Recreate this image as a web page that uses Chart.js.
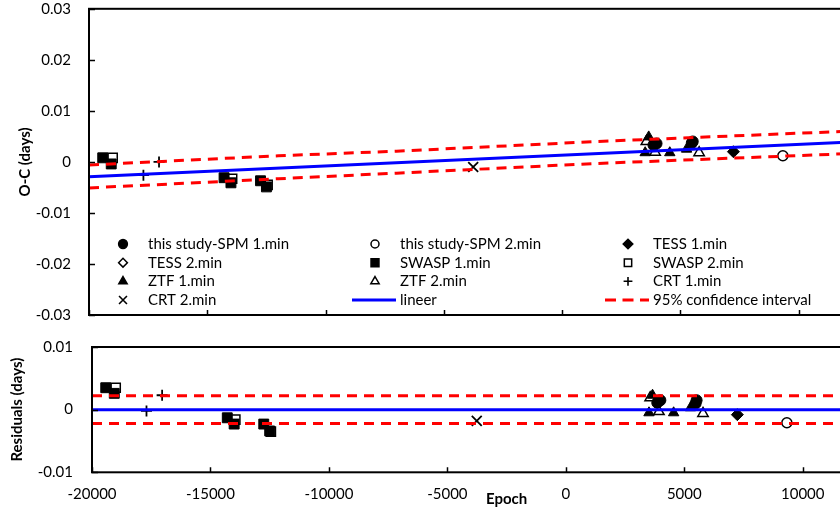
<!DOCTYPE html>
<html>
<head>
<meta charset="utf-8">
<script src="https://cdn.jsdelivr.net/npm/chart.js@4.4.1/dist/chart.umd.min.js"></script>
<style>
  html, body { margin: 0; padding: 0; background: #fff; overflow: hidden; }
  #wrap { position: relative; width: 930px; height: 511px; }
  #topBox { position: absolute; left: 0; top: 0; }
  #botBox { position: absolute; left: 0; top: 325px; }
</style>
</head>
<body>
<div id="wrap">
  <div id="topBox"><canvas id="ocChart" width="930" height="325"></canvas></div>
  <div id="botBox"><canvas id="resChart" width="930" height="186"></canvas></div>
</div>
<script>
// O-C diagram: linear fit on top, residuals below

const xTicks = [-20000, -15000, -10000, -5000, 0, 5000, 10000, 15000];
const ocTicks = [-0.03, -0.02, -0.01, 0, 0.01, 0.02, 0.03];
const resTicks = [-0.01, 0, 0.01];

// this study-SPM 1.min
const spm1Epoch = [3860, 3990, 5480, 5520];
const spm1OC = [0.0033, 0.0036, 0.0037, 0.0040];
const spm1Res = [0.0011, 0.0015, 0.0010, 0.0015];

// this study-SPM 2.min
const spm2Epoch = [9330];
const spm2OC = [0.0012];
const spm2Res = [-0.0021];

// TESS
const tess1Epoch = [7240];
const tess1OC = [0.0020];
const tess1Res = [-0.0008];
const tess2Epoch = [];
const tess2OC = [];
const tess2Res = [];

// SWASP
const swasp1Epoch = [-19420, -19060, -14290, -14000, -12750, -12500];
const swasp1OC = [0.0008, -0.0004, -0.0031, -0.0041, -0.0037, -0.0049];
const swasp1Res = [0.0035, 0.0026, -0.0013, -0.0023, -0.0023, -0.0034];
const swasp2Epoch = [-19000, -13950, -12450];
const swasp2OC = [0.0008, -0.0033, -0.0045];
const swasp2Res = [0.0035, -0.0016, -0.0035];

// ZTF
const ztf1Epoch = [3660, 3510, 4550, 5260];
const ztf1OC = [0.0049, 0.0018, 0.0018, 0.0025];
const ztf1Res = [0.0023, -0.0005, -0.0005, 0.0003];
const ztf2Epoch = [3560, 3930, 5790];
const ztf2OC = [0.0040, 0.0019, 0.0018];
const ztf2Res = [0.0019, -0.0003, -0.0006];

// CRT
const crt1Epoch = [-17700, -17040];
const crt1OC = [-0.0026, 0.0000];
const crt1Res = [-0.0002, 0.0023];
const crt2Epoch = [-3760];
const crt2OC = [-0.0010];
const crt2Res = [-0.0018];

// linear fit and 95% band
const fitEpoch = [-20000, 15000];
const fitOC = [-0.0029, 0.0045];
const bandEpoch = [-20000, -12000, -7000, 1500, 12000, 15000];
const bandUpper = [-0.0006, 0.0012, 0.0021, 0.0040, 0.0060, 0.0066];
const bandLower = [-0.0051, -0.0033, -0.0022, -0.0003, 0.0016, 0.0022];
const resFit = [0, 0];
const resUpper = [0.0022, 0.0022];
const resLower = [-0.0022, -0.0022];

const FONT = "Lato";

const SERIES = [
  { label: "this study-SPM 1.min", epoch: spm1Epoch, oc: spm1OC, res: spm1Res, style: "circle", r: 5.5, filled: true },
  { label: "this study-SPM 2.min", epoch: spm2Epoch, oc: spm2OC, res: spm2Res, style: "circle", r: 5, filled: false },
  { label: "TESS 1.min", epoch: tess1Epoch, oc: tess1OC, res: tess1Res, style: "rectRot", r: 6, filled: true },
  { label: "TESS 2.min", epoch: tess2Epoch, oc: tess2OC, res: tess2Res, style: "rectRot", r: 5.5, filled: false },
  { label: "SWASP 1.min", epoch: swasp1Epoch, oc: swasp1OC, res: swasp1Res, style: "rect", r: 7, filled: true },
  { label: "SWASP 2.min", epoch: swasp2Epoch, oc: swasp2OC, res: swasp2Res, style: "rect", r: 6.5, filled: false },
  { label: "ZTF 1.min", epoch: ztf1Epoch, oc: ztf1OC, res: ztf1Res, style: "triangle", r: 6, filled: true },
  { label: "ZTF 2.min", epoch: ztf2Epoch, oc: ztf2OC, res: ztf2Res, style: "triangle", r: 6, filled: false },
  { label: "CRT 1.min", epoch: crt1Epoch, oc: crt1OC, res: crt1Res, style: "cross", r: 5.5, filled: false, cross: true },
  { label: "CRT 2.min", epoch: crt2Epoch, oc: crt2OC, res: crt2Res, style: "crossRot", r: 7, filled: false, cross: true },
];

function pts(xs, ys) {
  return xs.map((x, i) => ({ x, y: ys[i] }));
}

function markerDataset(s, key) {
  return {
    label: s.label,
    data: pts(s.epoch, s[key]),
    pointStyle: s.style,
    pointRadius: s.r,
    pointBackgroundColor: s.filled ? "#000" : "#fff",
    pointBorderColor: "#000",
    pointBorderWidth: s.cross ? 1.8 : (s.filled ? 1 : 1.5),
    showLine: false,
    order: 1,
  };
}

function lineDataset(label, xs, ys, color, dash) {
  return {
    label,
    data: pts(xs, ys),
    showLine: true,
    borderColor: color,
    borderWidth: 3,
    borderDash: dash || [],
    pointRadius: 0,
    tension: 0,
    order: 0,
  };
}

// box around the plot area plus inward tick marks
const frame = {
  id: "frame",
  afterDatasetsDraw(chart) {
    const { ctx, chartArea: a, scales } = chart;
    ctx.save();
    ctx.strokeStyle = "#000";
    ctx.lineWidth = 2;
    ctx.strokeRect(a.left, a.top, a.right - a.left, a.bottom - a.top);
    ctx.lineWidth = 1.5;
    ctx.beginPath();
    scales.x.ticks.forEach((t) => {
      const px = Math.round(scales.x.getPixelForValue(t.value)) + 0.5;
      ctx.moveTo(px, a.bottom);
      ctx.lineTo(px, a.bottom - 5);
    });
    scales.y.ticks.forEach((t) => {
      const py = Math.round(scales.y.getPixelForValue(t.value)) + 0.5;
      ctx.moveTo(a.left, py);
      ctx.lineTo(a.left + 6, py);
    });
    ctx.stroke();
    ctx.restore();
  },
};

const LEGEND_TEXT_X = [148, 400, 653];
const LEGEND_ROW_Y = [244, 262.7, 281.3, 300];

const gridLegend = {
  id: "gridLegend",
  afterDraw(chart) {
    const ctx = chart.ctx;
    const items = SERIES.map((s) => ({ ...s, kind: "marker" })).concat([
      { label: "lineer", kind: "line", color: "#0000ff", dash: [] },
      { label: "95% confidence interval", kind: "line", color: "#ff0000", dash: [11, 6.5] },
    ]);
    ctx.save();
    ctx.font = `15px ${FONT}`;
    ctx.textBaseline = "middle";
    ctx.textAlign = "left";
    items.forEach((it, i) => {
      const tx = LEGEND_TEXT_X[i % 3];
      const y = LEGEND_ROW_Y[Math.floor(i / 3)];
      if (it.kind === "line") {
        ctx.save();
        ctx.strokeStyle = it.color;
        ctx.lineWidth = 3;
        ctx.setLineDash(it.dash);
        ctx.beginPath();
        ctx.moveTo(tx - 48, y);
        ctx.lineTo(tx - 4, y);
        ctx.stroke();
        ctx.restore();
      } else {
        ctx.save();
        ctx.fillStyle = it.filled ? "#000" : "#fff";
        ctx.strokeStyle = "#000";
        ctx.lineWidth = it.cross ? 1.6 : 1.5;
        Chart.helpers.drawPoint(ctx, {
          pointStyle: it.style,
          radius: it.r * 0.8,
          borderWidth: ctx.lineWidth,
          rotation: 0,
        }, tx - 25, y);
        ctx.restore();
      }
      ctx.fillStyle = "#000";
      ctx.fillText(it.label, tx, y);
    });
    ctx.restore();
  },
};

function tickFmt(v) {
  return String(parseFloat(Number(v).toFixed(4)));
}

function baseOptions(cfg) {
  return {
    responsive: false,
    animation: false,
    events: [],
    layout: { padding: cfg.padding },
    plugins: { legend: { display: false }, tooltip: { enabled: false } },
    scales: {
      x: {
        type: "linear",
        min: -20000,
        max: 15000,
        afterBuildTicks: (s) => { s.ticks = xTicks.map((v) => ({ value: v })); },
        afterFit: (s) => {
          s.height = cfg.xHeight;
          s.paddingLeft = 0;
          s.paddingRight = 0;
        },
        grid: { display: false, drawTicks: false },
        border: { display: false },
        ticks: {
          display: cfg.xLabels,
          padding: 13,
          color: "#000",
          font: { family: FONT, size: 15 },
          maxRotation: 0,
          callback: (v) => tickFmt(v),
        },
        title: {
          display: cfg.xLabels,
          text: "Epoch",
          color: "#000",
          font: { family: FONT, size: 15, weight: "bold" },
          padding: { top: 0, bottom: 3 },
        },
      },
      y: {
        type: "linear",
        min: cfg.yMin,
        max: cfg.yMax,
        afterBuildTicks: (s) => { s.ticks = cfg.yTicks.map((v) => ({ value: v })); },
        afterFit: (s) => {
          s.width = cfg.yWidth;
          s.paddingTop = 0;
          s.paddingBottom = 0;
        },
        grid: { display: false, drawTicks: false },
        border: { display: false },
        ticks: {
          padding: cfg.yPad,
          color: "#000",
          font: { family: FONT, size: 15 },
          callback: (v) => tickFmt(v),
        },
        title: {
          display: true,
          text: cfg.yTitle,
          color: "#000",
          font: { family: FONT, size: 15, weight: "bold" },
          padding: { top: cfg.yTitlePad, bottom: 0 },
        },
      },
    },
  };
}

new Chart(document.getElementById("ocChart"), {
  type: "scatter",
  data: {
    datasets: SERIES.map((s) => markerDataset(s, "oc")).concat([
      lineDataset("lineer", fitEpoch, fitOC, "#0000ff"),
      lineDataset("95% confidence interval", bandEpoch, bandUpper, "#ff0000", [10, 7]),
      lineDataset("95% lower", bandEpoch, bandLower, "#ff0000", [10, 7]),
    ]),
  },
  options: baseOptions({
    padding: { top: 7, right: 13, left: 0, bottom: 0 },
    xHeight: 10,
    xLabels: false,
    yMin: -0.03,
    yMax: 0.03,
    yTicks: ocTicks,
    yWidth: 89,
    yPad: 18,
    yTitle: "O-C (days)",
    yTitlePad: 16,
  }),
  plugins: [frame, gridLegend],
});

new Chart(document.getElementById("resChart"), {
  type: "scatter",
  data: {
    datasets: SERIES.map((s) => markerDataset(s, "res")).concat([
      lineDataset("lineer", fitEpoch, resFit, "#0000ff"),
      lineDataset("95% upper", fitEpoch, resUpper, "#ff0000", [10, 7]),
      lineDataset("95% lower", fitEpoch, resLower, "#ff0000", [10, 7]),
    ]),
  },
  options: baseOptions({
    padding: { top: 22, right: 7, left: 0, bottom: 0 },
    xHeight: 38.7,
    xLabels: true,
    yMin: -0.01,
    yMax: 0.01,
    yTicks: resTicks,
    yWidth: 92,
    yPad: 19,
    yTitle: "Residuals (days)",
    yTitlePad: 8,
  }),
  plugins: [frame],
});
</script>
</body>
</html>
